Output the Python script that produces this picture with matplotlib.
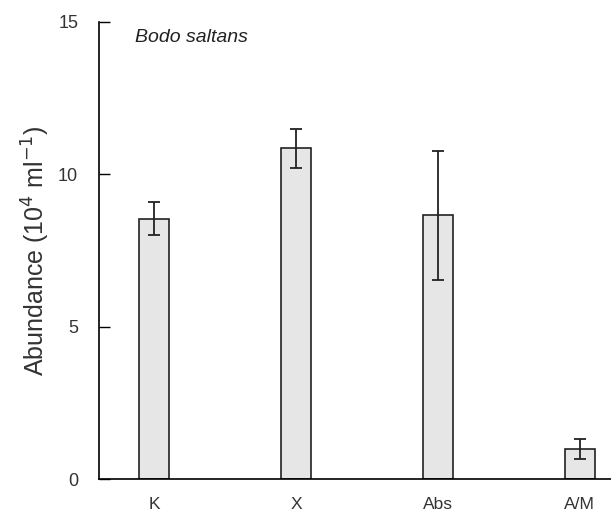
import numpy as np
import matplotlib
matplotlib.use('Agg')
import matplotlib.pyplot as plt

# data
categories = ['K', 'X', 'Abs', 'A/M']
abundance = [8.55, 10.85, 8.65, 0.98]
errors = [0.55, 0.65, 2.13, 0.33]

plt.rcParams['font.family'] = ['Liberation Sans', 'DejaVu Sans']

fig = plt.figure(figsize=(6.11, 5.16), dpi=100)
ax = fig.add_axes([0.162, 0.0717, 0.838, 0.8857])

x = np.arange(len(categories))
ax.bar(x, abundance, width=0.21, color='#e6e6e6', edgecolor='#222222', linewidth=1.2, zorder=2)
ax.errorbar(x, abundance, yerr=errors, fmt='none', ecolor='#222222', elinewidth=1.3,
            capsize=4, capthick=1.3, zorder=3)

ax.set_xlim(-0.39, 3.22)
ax.set_ylim(0, 15)
ax.set_xticks(x)
ax.set_xticklabels(categories, fontsize=12.5, color='#333333')
ax.set_yticks([0, 5, 10, 15])
ax.tick_params(axis='x', length=0, pad=13)
ax.tick_params(axis='y', direction='in', length=8, width=1, labelsize=13, pad=15,
               labelcolor='#333333')

ax.spines['top'].set_visible(False)
ax.spines['right'].set_visible(False)
ax.spines['left'].set_linewidth(1.2)
ax.spines['bottom'].set_linewidth(1.2)

ax.set_ylabel('Abundance (10$^4$ ml$^{-1}$)', fontsize=18, labelpad=4, color='#333333')
ax.text(0.07, 0.985, 'Bodo saltans', transform=ax.transAxes, fontsize=14,
        style='italic', va='top', ha='left', color='#222222')

fig.savefig('out.png', dpi=100)
